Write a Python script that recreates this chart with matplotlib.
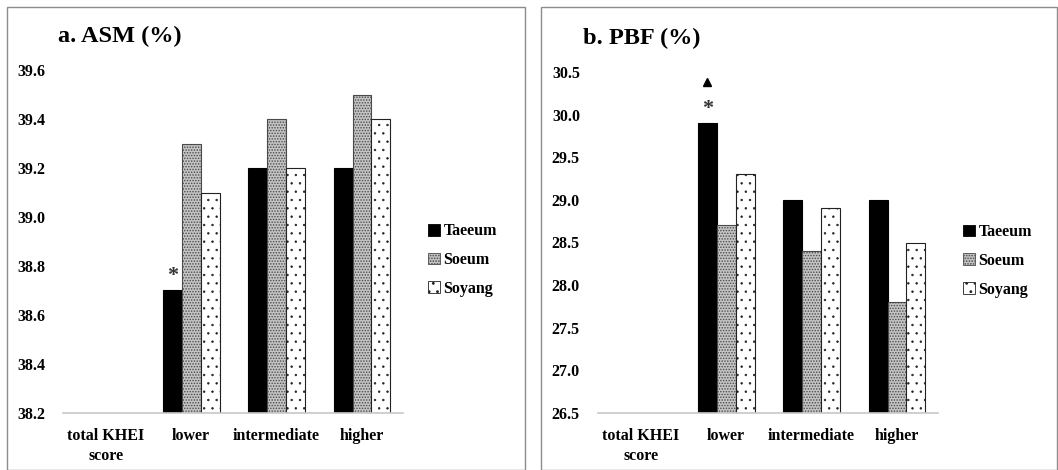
"""
Two grouped bar panels: ASM (%) and PBF (%) by KHEI score group and constitution type.
"""

import numpy as np
import matplotlib
matplotlib.use("Agg")
import matplotlib.pyplot as plt
from matplotlib.patches import Rectangle

plt.rcParams['font.family'] = ['Liberation Serif', 'DejaVu Serif']
plt.rcParams['font.weight'] = 'bold'
plt.rcParams['hatch.linewidth'] = 0.8

# ============================================================
# Data
# ============================================================

categories = ["total KHEI\nscore", "lower", "intermediate", "higher"]
series_names = ["Taeeum", "Soeum", "Soyang"]

asm_taeeum = [np.nan, 38.7, 39.2, 39.2]
asm_soeum = [np.nan, 39.3, 39.4, 39.5]
asm_soyang = [np.nan, 39.1, 39.2, 39.4]

pbf_taeeum = [np.nan, 29.9, 29.0, 29.0]
pbf_soeum = [np.nan, 28.7, 28.4, 27.8]
pbf_soyang = [np.nan, 29.3, 28.9, 28.5]

asm_ticks = [38.2, 38.4, 38.6, 38.8, 39.0, 39.2, 39.4, 39.6]
pbf_ticks = [26.5, 27.0, 27.5, 28.0, 28.5, 29.0, 29.5, 30.0, 30.5]


# ============================================================
# Panel drawing
# ============================================================

def draw_panel(ax, values, ticks, title, title_x):

    x = np.arange(len(categories))
    w = 0.222
    styles = [
        dict(color="black", edgecolor="black", hatch=None, hlw=0.8),
        dict(color="#c4c4c4", edgecolor="#4a4a4a", hatch="......", hlw=0.7),
        dict(color="white", edgecolor="#222222", hatch="..", hlw=0.5),
    ]
    bottom = ticks[0]
    for i, (vals, st) in enumerate(zip(values, styles)):
        heights = np.array(vals) - bottom
        bars = ax.bar(x + (i - 1) * w, heights, width=w, bottom=bottom,
                      color=st["color"], edgecolor=st["edgecolor"],
                      hatch=st["hatch"], linewidth=0.8, label=series_names[i])
        for p in bars:
            p.set_hatch_linewidth(st["hlw"])

    ax.set_xlim(-0.5, 3.48)
    ax.set_ylim(ticks[0], ticks[-1])
    ax.set_yticks(ticks)
    ax.set_yticklabels(["{:.1f}".format(t) for t in ticks], fontsize=11.5,
                       fontweight="bold")
    ax.set_xticks(x)
    ax.set_xticklabels(categories, fontsize=11.5, fontweight="bold",
                       linespacing=1.3)
    ax.tick_params(axis="x", length=0, pad=11)
    ax.tick_params(axis="y", length=0, pad=13)

    for s in ["top", "right", "left"]:
        ax.spines[s].set_visible(False)
    ax.spines["bottom"].set_color("#c8c8c8")
    ax.spines["bottom"].set_linewidth(1.2)

    leg = ax.legend(loc="center left", bbox_to_anchor=(1.03, 0.446),
                    frameon=False, handlelength=0.75, handleheight=0.75,
                    handletextpad=0.25, labelspacing=0.8,
                    prop={"weight": "bold", "size": 11.5})
    for h in leg.legend_handles:
        h.set_linewidth(0.6)

    ax.text(title_x, 1.098, title, transform=ax.transAxes, fontsize=17.5,
            fontweight="bold", ha="left", va="center")
    return x, w


fig = plt.figure(figsize=(10.58, 4.70), dpi=100)

# panel frames
for x0, x1 in [(7, 525), (541, 1057)]:
    fig.patches.append(Rectangle((x0 / 1058, 0), (x1 - x0) / 1058, 1 - 7 / 470,
                                 transform=fig.transFigure, fill=False,
                                 edgecolor="#8c8c8c", linewidth=1.0))

ax1 = fig.add_axes([63 / 1058, 1 - 413 / 470, 340 / 1058, (413 - 70) / 470])
x, w = draw_panel(ax1, [asm_taeeum, asm_soeum, asm_soyang], asm_ticks,
                  "a. ASM (%)", -0.015)
ax1.text(x[1] - w, asm_taeeum[1] + 0.02, "*", ha="center", va="bottom",
         fontsize=16, fontweight="bold", color="#333333")

ax2 = fig.add_axes([598 / 1058, 1 - 413 / 470, 340 / 1058, (413 - 72) / 470])
x, w = draw_panel(ax2, [pbf_taeeum, pbf_soeum, pbf_soyang], pbf_ticks,
                  "b. PBF (%)", -0.044)
ax2.text(x[1] - w, pbf_taeeum[1] + 0.05, "*", ha="center", va="bottom",
         fontsize=16, fontweight="bold", color="#333333")
ax2.plot([x[1] - w], [pbf_taeeum[1] + 0.48], marker="^", color="black",
         markersize=6, clip_on=False)

fig.savefig("out.png", dpi=100)
